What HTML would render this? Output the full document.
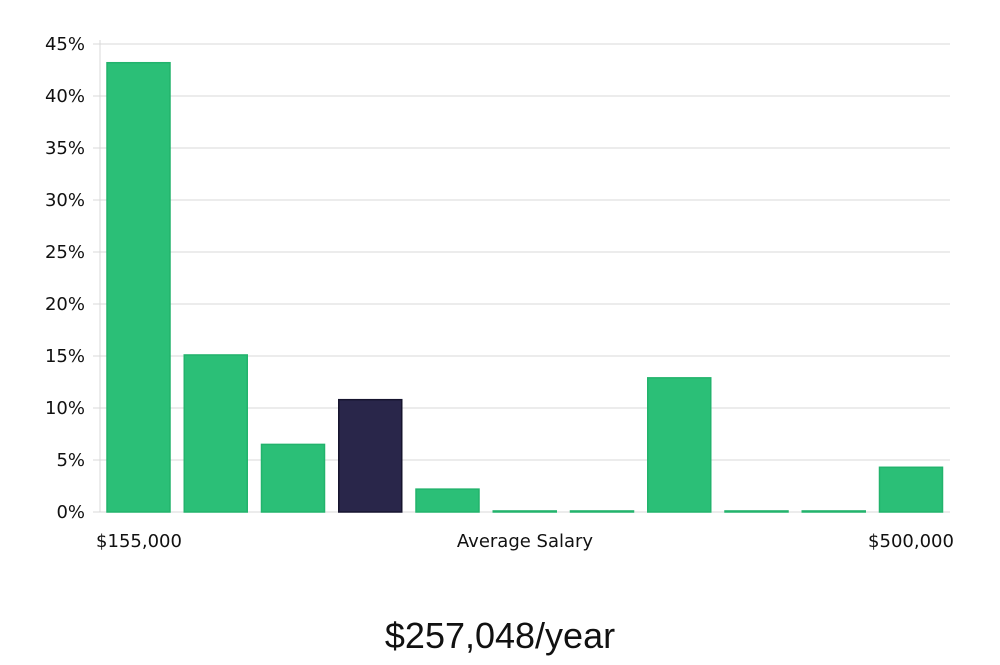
<!DOCTYPE html>
<html><head><meta charset="utf-8"><style>
body{margin:0;background:#fff;width:1000px;height:660px;overflow:hidden}
svg text{font-family:"DejaVu Sans","Liberation Sans",sans-serif;fill:#111}
</style></head><body>
<svg id="chart" width="1000" height="660" xmlns="http://www.w3.org/2000/svg">
<g id="grid"></g><g id="bars"></g><g id="labels"></g>
<text x="139" y="547" font-size="18" text-anchor="middle">$155,000</text>
<text x="525" y="547" font-size="18" text-anchor="middle">Average Salary</text>
<text x="911" y="547" font-size="18" text-anchor="middle">$500,000</text>
<text x="500" y="648" font-size="36" text-anchor="middle" style="font-family:'Liberation Sans',sans-serif;font-weight:300">$257,048/year</text>
</svg>
<script>
const categories=["b1","b2","b3","b4","b5","b6","b7","b8","b9","b10","b11"];
const values=[43.2,15.1,6.5,10.8,2.2,0.1,0.1,12.9,0.1,0.1,4.3];
const highlightIndex=3;
const yTicks=[0,5,10,15,20,25,30,35,40,45];
const NS="http://www.w3.org/2000/svg";
const y0=512,pxPer=10.4,xStart=138.5,step=77.25,bw=63;
const y=v=>y0-v*pxPer, x=i=>xStart+i*step;
const grid=document.getElementById('grid'),bars=document.getElementById('bars');
yTicks.forEach(t=>{
 const l=document.createElementNS(NS,'line');
 
 
 l.setAttribute('x1',93);l.setAttribute('x2',950);l.setAttribute('y1',y(t));l.setAttribute('y2',y(t));
 l.setAttribute('stroke','#d9d9d9');l.setAttribute('stroke-width','1');grid.appendChild(l);
 const tx=document.createElementNS(NS,'text');
 
 
 tx.setAttribute('x',85);tx.setAttribute('y',y(t)+6);tx.setAttribute('font-size','18');tx.setAttribute('text-anchor','end');
 tx.textContent=t+'%';grid.appendChild(tx);
});
const ax=document.createElementNS(NS,'line');


ax.setAttribute('x1',100);ax.setAttribute('x2',100);ax.setAttribute('y1',40);ax.setAttribute('y2',512);
ax.setAttribute('stroke','#d9d9d9');grid.appendChild(ax);
values.forEach((v,i)=>{
 const r=document.createElementNS(NS,'rect');
 
 
 const h=Math.max(v*pxPer,1);
 r.setAttribute('x',x(i)-bw/2);r.setAttribute('y',y0-h);r.setAttribute('width',bw);r.setAttribute('height',h);
 const hi=i===highlightIndex;
 r.setAttribute('fill',hi?'#29264a':'#2bbf77');
 r.setAttribute('stroke',hi?'#16142e':'#22b36c');r.setAttribute('stroke-width','1.5');
 bars.appendChild(r);
});
</script>
</body></html>
